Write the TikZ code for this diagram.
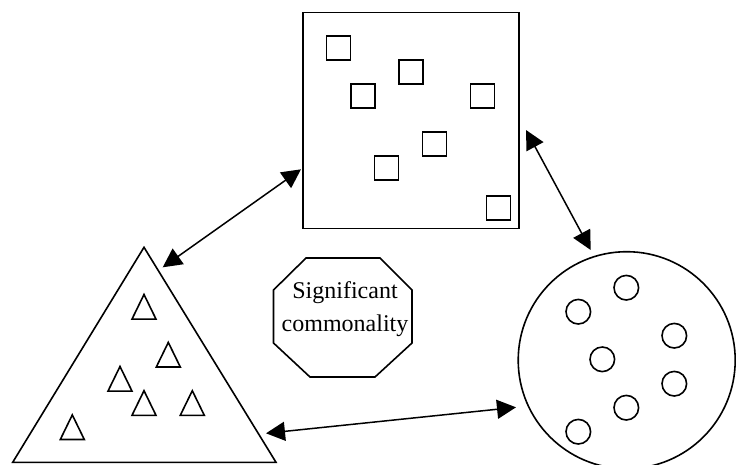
\documentclass[tikz,border=0pt]{standalone}
\usepackage{fontspec}
\setmainfont{Liberation Serif}
\usetikzlibrary{arrows.meta}
\begin{document}
\begin{tikzpicture}[x=1pt,y=-1pt,
  outline/.style={draw=black, line width=1.6pt, line join=miter},
  bigsq/.style={outline, rectangle, minimum size=216pt, inner sep=0pt, outer sep=0pt},
  bigcirc/.style={outline, circle, minimum size=217pt, inner sep=0pt, outer sep=0pt},
  smsq/.style={outline, rectangle, minimum size=24pt, inner sep=0pt},
  smcirc/.style={outline, circle, minimum size=24.6pt, inner sep=0pt},
  smtri/.pic={\draw[outline] (-12,12.3) -- (12,12.3) -- (0,-12.3) -- cycle;},
  conn/.style={line width=1.5pt, {Triangle[length=19pt,width=19pt]}-{Triangle[length=19pt,width=19pt]}},
  label/.style={font=\fontsize{24}{33}\selectfont, align=center, inner sep=0pt}
]
\useasboundingbox (0,0) rectangle (736,464);

% big square with small squares
\node[bigsq] (sq) at (411,120.5) {};
\node[smsq] (s1) at (338.5,48) {};
\node[smsq] (s2) at (411,72) {};
\node[smsq] (s3) at (363,96) {};
\node[smsq] (s4) at (482.5,96) {};
\node[smsq] (s5) at (434.5,144) {};
\node[smsq] (s6) at (386.5,168) {};
\node[smsq] (s7) at (498.5,208) {};

% big triangle with small triangles
\coordinate (tA) at (144,247.3);
\coordinate (tL) at (12.7,462.3);
\coordinate (tR) at (276,462.3);
\draw[outline] (tA) -- (tL) -- (tR) -- cycle;
\pic (t1) at (144,306.8) {smtri};
\pic (t2) at (168.3,354.7) {smtri};
\pic (t3) at (120,378.8) {smtri};
\pic (t4) at (144,403) {smtri};
\pic (t5) at (192.3,403) {smtri};
\pic (t6) at (72.3,427.2) {smtri};

% big circle with small circles
\node[bigcirc] (ci) at (626.7,360.2) {};
\node[smcirc] (c1) at (626.3,287.7) {};
\node[smcirc] (c2) at (578.3,311.7) {};
\node[smcirc] (c3) at (674.3,335.7) {};
\node[smcirc] (c4) at (602.3,359.3) {};
\node[smcirc] (c5) at (674.3,383.7) {};
\node[smcirc] (c6) at (626.3,407.7) {};
\node[smcirc] (c7) at (578.3,431.7) {};

% octagon with label
\draw[outline] (306,258) -- (380,258) -- (412,290) -- (412,343)
  -- (375,377) -- (310,377) -- (273.5,343) -- (273.5,290) -- cycle;
\node[label] (oct) at (345,309) {Significant\\commonality};

% connectors
\coordinate (sqW) at (301,169.3);
\coordinate (triN) at (162.7,267.3);
\coordinate (sqE) at (526,130);
\coordinate (ciN) at (590.7,250);
\coordinate (triE) at (266,433.3);
\coordinate (ciW) at (516,407.3);
\draw[conn] (sqW) -- (triN);
\draw[conn] (sqE) -- (ciN);
\draw[conn] (triE) -- (ciW);
\end{tikzpicture}
\end{document}
